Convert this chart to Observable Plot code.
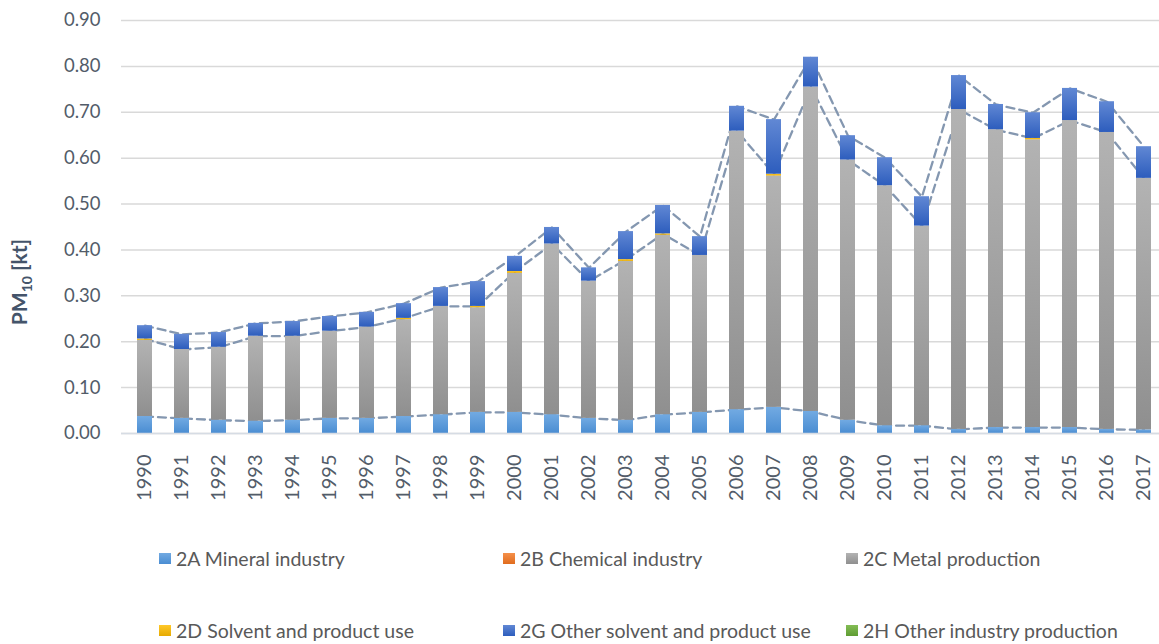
<!DOCTYPE html>
<html><head><meta charset="utf-8">
<script src="https://cdn.jsdelivr.net/npm/d3@7"></script>
<script src="https://cdn.jsdelivr.net/npm/@observablehq/plot@0.6"></script>
<style>
body{margin:0;background:#fff;font-family:Lato,"Open Sans",sans-serif;}
#wrap{position:relative;width:1159px;height:644px;overflow:hidden;}
#legend{position:absolute;left:0;top:520px;width:1159px;height:124px;}
.item{position:absolute;display:flex;align-items:center;height:22px;font-size:19.5px;color:#595959;white-space:nowrap;}
.sw{width:12px;height:11px;margin-right:5px;}
</style></head><body>
<svg width="0" height="0" style="position:absolute">
  <defs>
    <linearGradient id="g2A" x1="0" y1="0" x2="0" y2="1"><stop offset="0" stop-color="#72aae2"/><stop offset="1" stop-color="#4a8dd2"/></linearGradient>
    <linearGradient id="g2B" x1="0" y1="0" x2="0" y2="1"><stop offset="0" stop-color="#f5904a"/><stop offset="1" stop-color="#e06c1e"/></linearGradient>
    <linearGradient id="g2C" x1="0" y1="0" x2="0" y2="1"><stop offset="0" stop-color="#b3b3b3"/><stop offset="1" stop-color="#8f8f8f"/></linearGradient>
    <linearGradient id="g2D" x1="0" y1="0" x2="0" y2="1"><stop offset="0" stop-color="#ffc82a"/><stop offset="1" stop-color="#e6aa00"/></linearGradient>
    <linearGradient id="g2G" x1="0" y1="0" x2="0" y2="1"><stop offset="0" stop-color="#6188d4"/><stop offset="1" stop-color="#2d5dbd"/></linearGradient>
    <linearGradient id="g2H" x1="0" y1="0" x2="0" y2="1"><stop offset="0" stop-color="#84bd55"/><stop offset="1" stop-color="#5f9c33"/></linearGradient>
  </defs>
</svg>
<div id="wrap"><div id="chart"></div><div id="legend"></div></div>
<script>
const years = ["1990","1991","1992","1993","1994","1995","1996","1997","1998","1999","2000","2001","2002","2003","2004","2005","2006","2007","2008","2009","2010","2011","2012","2013","2014","2015","2016","2017"];
const seriesNames = ["2A Mineral industry","2B Chemical industry","2C Metal production","2D Solvent and product use","2G Other solvent and product use","2H Other industry production"];
const seriesFills = ["url(#g2A)","url(#g2B)","url(#g2C)","url(#g2D)","url(#g2G)","url(#g2H)"];
const v2A = [0.037,0.033,0.029,0.027,0.029,0.033,0.033,0.037,0.041,0.046,0.046,0.041,0.033,0.029,0.041,0.046,0.052,0.057,0.048,0.029,0.017,0.017,0.009,0.013,0.013,0.013,0.009,0.008];
const v2B = [0,0,0,0,0,0,0,0,0,0,0,0,0,0,0,0,0,0,0,0,0,0,0,0,0,0,0,0];
const v2C = [0.166,0.150,0.159,0.185,0.183,0.190,0.199,0.211,0.236,0.228,0.303,0.372,0.299,0.346,0.391,0.342,0.607,0.504,0.707,0.567,0.523,0.435,0.697,0.649,0.627,0.669,0.647,0.548];
const v2D = [0.003,0,0,0,0,0,0,0.003,0,0.003,0.004,0,0,0.004,0.003,0,0,0.004,0,0,0,0,0,0,0.003,0,0,0];
const v2G = [0.029,0.033,0.032,0.028,0.032,0.032,0.032,0.032,0.041,0.054,0.033,0.036,0.029,0.061,0.062,0.041,0.054,0.119,0.065,0.053,0.061,0.064,0.074,0.055,0.056,0.070,0.067,0.069];
const v2H = [0,0,0,0,0,0,0,0,0,0,0,0,0,0,0,0,0,0,0,0,0,0,0,0,0,0,0,0];
const yTicks = [0,0.1,0.2,0.3,0.4,0.5,0.6,0.7,0.8,0.9];

const seriesValues = [v2A,v2B,v2C,v2D,v2G,v2H];
const bars = [];
seriesNames.forEach((s,k)=>years.forEach((y,i)=>bars.push({year:y, series:s, value:seriesValues[k][i]})));
const lines = [];
years.forEach((y,i)=>{
  const a = v2A[i];
  const c = v2A[i]+v2B[i]+v2C[i]+v2D[i];
  const t = c+v2G[i]+v2H[i];
  lines.push({year:y, key:"a", v:a},{year:y, key:"c", v:c},{year:y, key:"t", v:t});
});

const textColor = "#525c69";
const chart = Plot.plot({
  width: 1159, height: 520,
  marginLeft: 121, marginRight: 0, marginTop: 20, marginBottom: 87,
  style: {fontFamily: "Lato, 'Open Sans', sans-serif", fontSize: "18px", color: textColor, background: "#fff"},
  x: {domain: years, range: [120.6, 1168.1], paddingInner: 0.6, paddingOuter: 0.3, label: null},
  y: {domain: [0, 0.9], label: null},
  color: {domain: seriesNames, range: seriesFills},
  marks: [
    Plot.ruleY(yTicks, {stroke: "#d9d9d9", strokeWidth: 1.5}),
    Plot.line(lines, {x: "year", y: "v", z: "key", stroke: "#8497b0", strokeWidth: 2.3, strokeDasharray: "8,5"}),
    Plot.barY(bars, Plot.stackY({x: "year", y: "value", z: "series", fill: "series", order: seriesNames})),
    Plot.ruleY([0], {stroke: "#d6dce4", strokeWidth: 1.5}),
    Plot.axisY({ticks: yTicks, tickFormat: d3.format(".2f"), tickSize: 0, tickPadding: 21, label: null, fill: textColor, fontSize: 18.5}),
    Plot.axisX({tickRotate: -90, tickSize: 0, tickPadding: 21, label: null, fill: textColor, fontSize: 20})
  ]
});
document.getElementById("chart").appendChild(chart);

// y-axis title with subscript
const svg = d3.select(chart);
const t = svg.append("text")
  .attr("transform", "translate(27,282) rotate(-90)")
  .attr("text-anchor", "middle")
  .attr("fill", "#44546a")
  .style("font-weight", "bold")
  .style("font-size", "21px")
  .style("font-family", "Lato, sans-serif");
t.append("tspan").text("PM");
t.append("tspan").style("font-size", "14px").attr("dy", "5").text("10");
t.append("tspan").attr("dy", "-5").text(" [kt]");

// legend
const legend = document.getElementById("legend");
const cols = [159, 503, 846];
const rows = [27, 99];
seriesNames.forEach((s,k)=>{
  const it = document.createElement("div");
  it.className = "item";
  it.style.left = cols[k%3] + "px";
  it.style.top = rows[Math.floor(k/3)] + "px";
  const sw = document.createElementNS("http://www.w3.org/2000/svg","svg");
  sw.setAttribute("class","sw");
  sw.setAttribute("width","12"); sw.setAttribute("height","11");
  const r = document.createElementNS("http://www.w3.org/2000/svg","rect");
  r.setAttribute("width","12"); r.setAttribute("height","11");
  r.setAttribute("fill", seriesFills[k]);
  sw.appendChild(r);
  it.appendChild(sw);
  const sp = document.createElement("span");
  sp.textContent = s;
  it.appendChild(sp);
  legend.appendChild(it);
});
</script>
</body></html>
